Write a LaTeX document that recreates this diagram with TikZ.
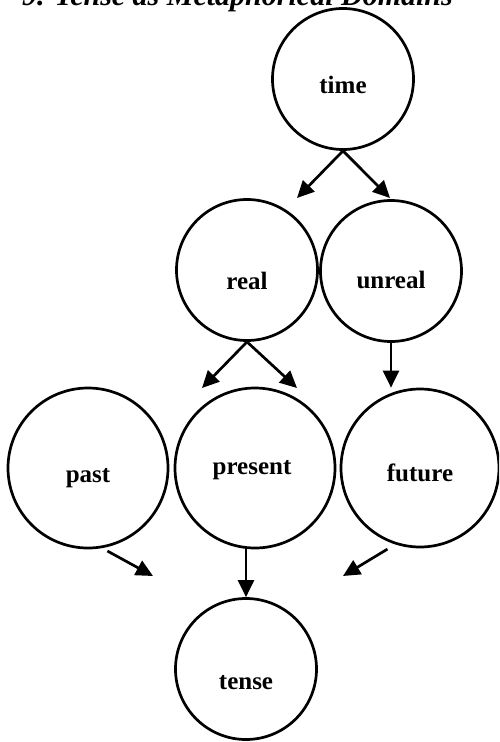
\documentclass[tikz,border=0pt]{standalone}
\usepackage{fontspec}
\setmainfont{Liberation Serif}
\usetikzlibrary{arrows.meta}

\begin{document}
\begin{tikzpicture}[x=1pt, y=-1pt,
      ring/.style={circle, draw, line width=2.7pt, minimum size=141pt,
                   inner sep=0pt},
      bigring/.style={ring, minimum size=160pt},
      lab/.style={font=\fontsize{25}{29}\selectfont\bfseries,
                  text height=0.7em, text depth=0.25em},
      arr/.style={-{Triangle[length=17pt,width=16pt]}, line width=2.7pt}]
    \useasboundingbox (0,0) rectangle (499,742);
    \clip (0,0) rectangle (499,742);
    \node[font=\fontsize{30}{34}\selectfont\bfseries\itshape,
      anchor=base east, inner sep=0pt] (title) at (453,5)
      {9. Tense as Metaphorical Domains};
    \node[ring, label={[lab, yshift=-12pt]center:time}] (time) at (343,79) {};
    \node[ring, label={[lab, yshift=-17pt]center:real}] (real) at (247,270) {};
    \node[ring, label={[lab, yshift=-15pt]center:unreal}] (unreal) at (391,271) {};
    \node[bigring, label={[lab, yshift=-12pt]center:past}] (past) at (88,468) {};
    \node[bigring, label={[lab, yshift=-4pt, xshift=-3pt]center:present}]
      (present) at (255,468) {};
    \node[bigring, minimum size=158pt, label={[lab, yshift=-11pt]center:future}]
      (future) at (420,468) {};
    \node[ring, label={[lab, yshift=-18pt]center:tense}] (tense) at (246,669) {};
    % free arrow ends
    \coordinate (to-real) at (297,198);
    \coordinate (to-unreal) at (390,198);
    \coordinate (to-past) at (202,388);
    \coordinate (to-present) at (297,388);
    \coordinate (past-out) at (153,576);
    \coordinate (future-out) at (343,576);
    \draw[arr] (time.south) -- (to-real);
    \draw[arr] (time.south) -- (to-unreal);
    \draw[arr] (real.south) -- (to-past);
    \draw[arr] (real.south) -- (to-present);
    \draw[arr] (unreal.south) -- (unreal.south |- future.north);
    \draw[arr, shorten <=6pt] (past.-80) -- (past-out);
    \draw[arr] (tense |- present.south) -- (tense.north);
    \draw[arr, shorten <=9pt] (future.-108) -- (future-out);
  \end{tikzpicture}
\end{document}
